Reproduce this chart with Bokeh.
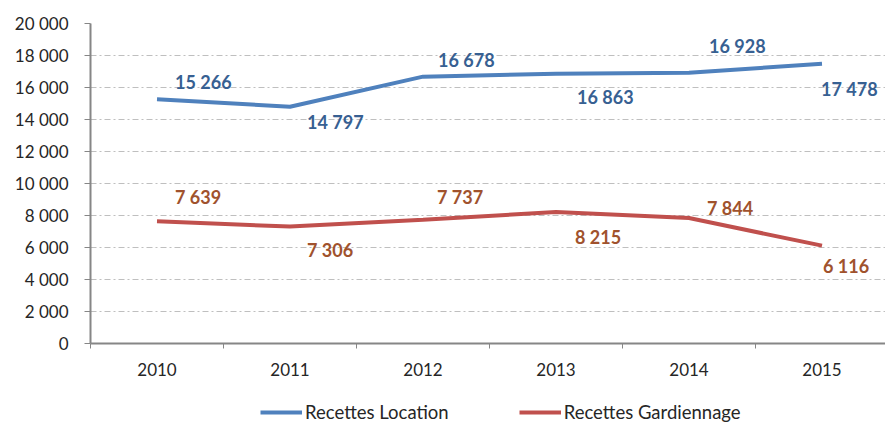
from bokeh.plotting import figure
from bokeh.layouts import column
from bokeh.models import (ColumnDataSource, FixedTicker, Legend, LegendItem)
from bokeh.core.properties import value
from bokeh.embed import file_html
from bokeh.resources import INLINE

years = ["2010", "2011", "2012", "2013", "2014", "2015"]
location = [15266, 14797, 16678, 16863, 16928, 17478]
gardiennage = [7639, 7306, 7737, 8215, 7844, 6116]
location_labels = ["15 266", "14 797", "16 678", "16 863", "16 928", "17 478"]
gardiennage_labels = ["7 639", "7 306", "7 737", "8 215", "7 844", "6 116"]
y_ticks = [0, 2000, 4000, 6000, 8000, 10000, 12000, 14000, 16000, 18000, 20000]
y_tick_labels = ["0", "2 000", "4 000", "6 000", "8 000", "10 000", "12 000",
                 "14 000", "16 000", "18 000", "20 000"]
series_names = ["Recettes Location", "Recettes Gardiennage"]

# label styling (screen offsets)
loc_dx = [18, 17, 15, 21, 20, -1]
loc_dy = [-17, 15, -17, 23, -27, 25]
gar_dx = [18, 17, 14, 19, 18, 1]
gar_dy = [-24, 23, -23, 25, -10, 20]

FONT = "Lato"
BLUE = "#4F81BD"
RED = "#C0504D"
BLUE_TXT = "#376092"
RED_TXT = "#A0522D"

xs = list(range(len(years)))

p = figure(width=885, height=395, output_backend="svg", toolbar_location=None,
           x_range=(-0.5, 5.5 - 3 / 133), y_range=(0, 20000),
           min_border_left=90, min_border_right=0, min_border_top=23,
           min_border_bottom=52)
p.outline_line_color = None
p.background_fill_color = "white"
p.border_fill_color = "white"

src_l = ColumnDataSource(dict(x=xs, y=location, t=location_labels, dx=loc_dx, dy=loc_dy))
src_g = ColumnDataSource(dict(x=xs, y=gardiennage, t=gardiennage_labels, dx=gar_dx, dy=gar_dy))

p.line("x", "y", source=src_l, line_color=BLUE, line_width=4)
p.line("x", "y", source=src_g, line_color=RED, line_width=4)

p.text("x", "y", text="t", source=src_l, x_offset="dx", y_offset="dy",
       text_font=value(FONT), text_font_size="18px", text_font_style="bold",
       text_color=BLUE_TXT, text_align="left", text_baseline="middle")
p.text("x", "y", text="t", source=src_g, x_offset="dx", y_offset="dy",
       text_font=value(FONT), text_font_size="18px", text_font_style="bold",
       text_color=RED_TXT, text_align="left", text_baseline="middle")

# axes
p.xaxis.ticker = FixedTicker(ticks=xs, minor_ticks=[i - 0.5 for i in range(len(years) + 1)])
p.xaxis.major_label_overrides = {i: y for i, y in enumerate(years)}
p.xaxis.major_tick_out = 0
p.xaxis.major_tick_in = 0
p.xaxis.minor_tick_out = 5
p.xaxis.minor_tick_in = 0
p.xaxis.minor_tick_line_color = "#868686"
p.xaxis.axis_line_color = "#868686"
p.xaxis.axis_line_width = 2
p.xaxis.major_label_standoff = 14
p.xaxis.major_label_text_font = FONT
p.xaxis.major_label_text_font_size = "17px"
p.xaxis.major_label_text_color = "#262626"

p.yaxis.ticker = FixedTicker(ticks=y_ticks)
p.yaxis.major_label_overrides = {t: l for t, l in zip(y_ticks, y_tick_labels)}
p.yaxis.major_tick_out = 6
p.yaxis.major_tick_in = 0
p.yaxis.minor_tick_line_color = None
p.yaxis.major_tick_line_color = "#868686"
p.yaxis.axis_line_color = "#868686"
p.yaxis.axis_line_width = 2
p.yaxis.major_label_standoff = 16
p.yaxis.major_label_text_font = FONT
p.yaxis.major_label_text_font_size = "17px"
p.yaxis.major_label_text_color = "#262626"

p.xgrid.grid_line_color = None
p.ygrid.ticker = FixedTicker(ticks=y_ticks)
p.ygrid.grid_line_color = "#BFBFBF"
p.ygrid.grid_line_dash = "6 3 2 3"
p.ygrid.grid_line_width = 1

# legend strip: same series, drawn out of view so only the legend shows
lg = figure(width=885, height=32, output_backend="svg", toolbar_location=None,
            x_range=(-0.5, 5.5), y_range=(-3, -2),
            min_border=0, x_axis_type=None, y_axis_type=None)
lg.outline_line_color = None
lg.grid.visible = False
l1 = lg.line("x", "y", source=src_l, line_color=BLUE, line_width=4)
l2 = lg.line("x", "y", source=src_g, line_color=RED, line_width=4)
legend = Legend(items=[LegendItem(label=series_names[0], renderers=[l1]),
                       LegendItem(label=series_names[1], renderers=[l2])],
                orientation="horizontal", location=(170, 4),
                label_text_font=FONT, label_text_font_size="18.5px",
                label_text_color="#262626", glyph_width=42, glyph_height=20,
                label_standoff=3, spacing=70, padding=0, margin=0,
                label_height=20, border_line_color=None, background_fill_alpha=0)
lg.add_layout(legend, "center")

layout = column(p, lg, spacing=0)
open("out.html", "w").write(file_html(layout, INLINE))
